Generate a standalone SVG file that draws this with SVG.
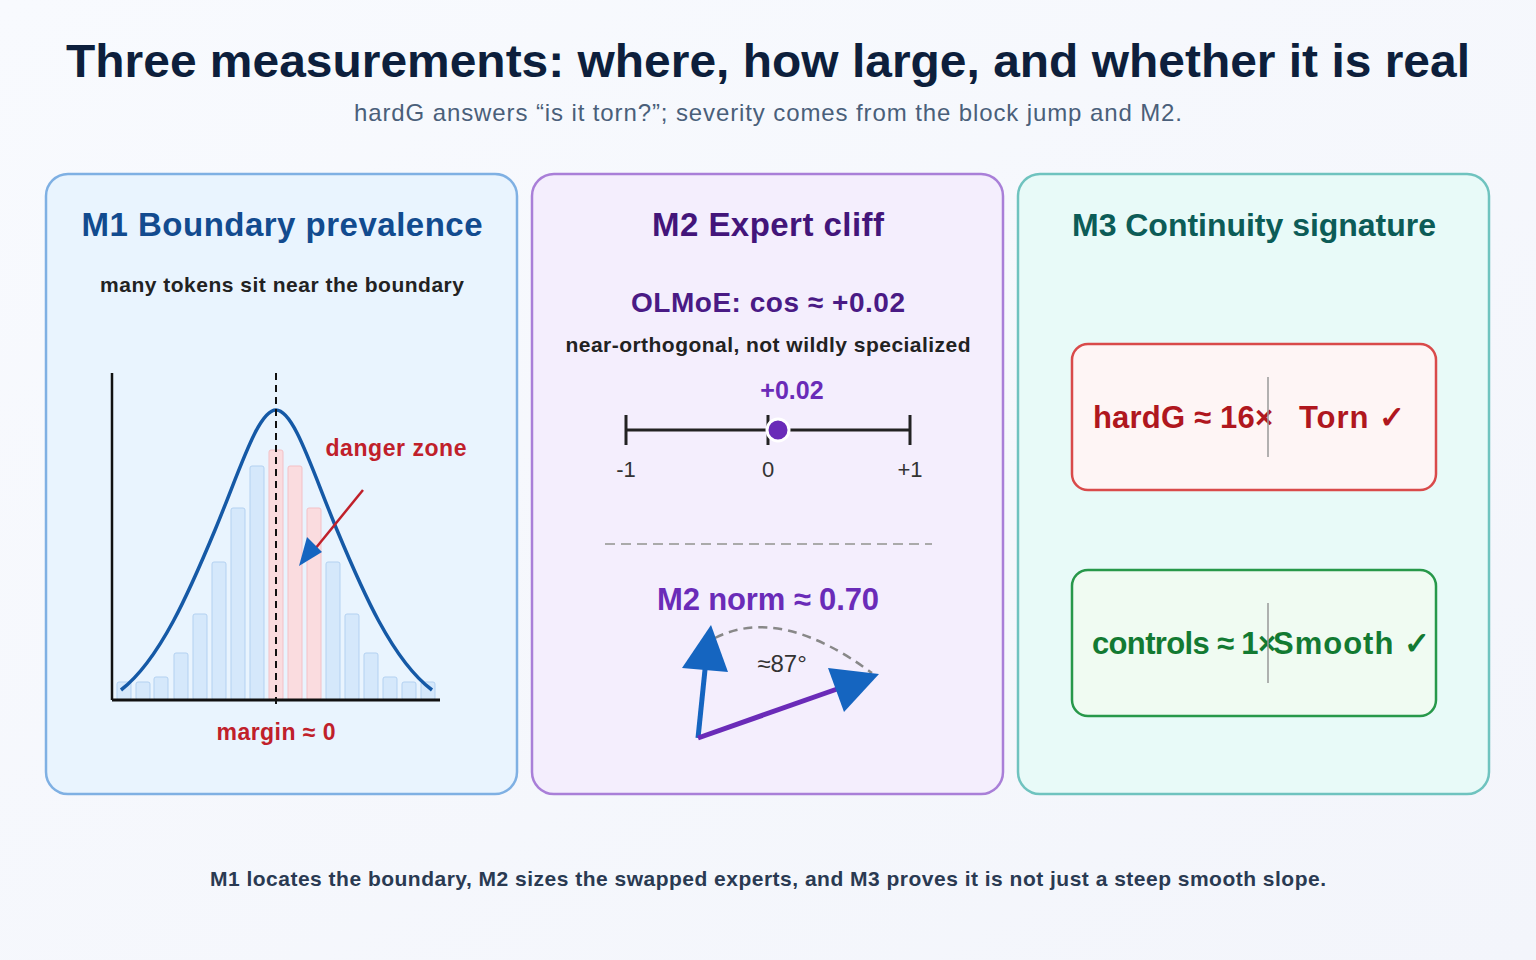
<svg xmlns="http://www.w3.org/2000/svg" width="1536" height="960" viewBox="0 0 1536 960">
<style>
text{font-family:"Liberation Sans",Arial,sans-serif}
.b{font-weight:bold}
.card{stroke-width:2.5}
</style>
<defs>
<linearGradient id="bg" x1="0" y1="0" x2="1" y2="1"><stop offset="0" stop-color="#f8fafe"/><stop offset="1" stop-color="#f3f5fb"/></linearGradient>
</defs>
<rect width="1536" height="960" fill="url(#bg)"/>
<text x="768" y="77" text-anchor="middle" font-size="47" class="b" fill="#0d1f3c" textLength="1404" lengthAdjust="spacingAndGlyphs">Three measurements: where, how large, and whether it is real</text>
<text x="768" y="121" text-anchor="middle" font-size="24" fill="#4a5f7a" textLength="828" lengthAdjust="spacing">hardG answers “is it torn?”; severity comes from the block jump and M2.</text>

<g id="m1">
<rect x="46" y="174" width="471" height="620" rx="22" fill="#e9f4fe" stroke="#7fb0e3" class="card"/>
<text x="282" y="236" text-anchor="middle" font-size="33" class="b" fill="#124b8f" textLength="401" lengthAdjust="spacing">M1 Boundary prevalence</text>
<text x="282" y="292" text-anchor="middle" font-size="21" class="b" fill="#222" textLength="364" lengthAdjust="spacing">many tokens sit near the boundary</text>
<g fill="#d5e8fb" stroke="#b3d1f1" stroke-width="1">
<rect x="117" y="682" width="14" height="18" rx="2"/><rect x="136" y="682" width="14" height="18" rx="2"/><rect x="154" y="677" width="14" height="23" rx="2"/><rect x="174" y="653" width="14" height="47" rx="2"/><rect x="193" y="614" width="14" height="86" rx="2"/><rect x="212" y="562" width="14" height="138" rx="2"/><rect x="231" y="508" width="14" height="192" rx="2"/><rect x="250" y="466" width="14" height="234" rx="2"/>
<rect x="326" y="562" width="14" height="138" rx="2"/><rect x="345" y="614" width="14" height="86" rx="2"/><rect x="364" y="653" width="14" height="47" rx="2"/><rect x="383" y="677" width="14" height="23" rx="2"/><rect x="402" y="682" width="14" height="18" rx="2"/><rect x="421" y="682" width="14" height="18" rx="2"/>
</g>
<g fill="#fadcdf" stroke="#f3c0c6" stroke-width="1">
<rect x="269" y="450" width="14" height="250" rx="2"/><rect x="288" y="466" width="14" height="234" rx="2"/><rect x="307" y="508" width="14" height="192" rx="2"/>
</g>
<line x1="112" y1="373" x2="112" y2="700" stroke="#111" stroke-width="2.5"/>
<line x1="112" y1="700" x2="440" y2="700" stroke="#111" stroke-width="3"/>
<path d="M121,690 C160,660 190,590 215,530 C240,470 258,410 276,410 C294,410 312,470 337,530 C362,590 392,660 432,690" fill="none" stroke="#1559a6" stroke-width="3.5"/>
<line x1="276" y1="373" x2="276" y2="705" stroke="#111" stroke-width="2" stroke-dasharray="7 5"/>
<text x="396" y="456" text-anchor="middle" font-size="23" class="b" fill="#c0202a" textLength="141" lengthAdjust="spacing">danger zone</text>
<line x1="363" y1="490" x2="315" y2="549" stroke="#c0202a" stroke-width="2.5"/>
<path d="M299,566 L307,537 L322,552 z" fill="#1565c0"/>
<text x="276" y="740" text-anchor="middle" font-size="23" class="b" fill="#c0202a" textLength="119" lengthAdjust="spacing">margin ≈ 0</text>
</g>

<g id="m2">
<rect x="532" y="174" width="471" height="620" rx="22" fill="#f4eefd" stroke="#a97fd8" class="card"/>
<text x="768" y="236" text-anchor="middle" font-size="33" class="b" fill="#43157a" textLength="232" lengthAdjust="spacing">M2 Expert cliff</text>
<text x="768" y="312" text-anchor="middle" font-size="28" class="b" fill="#4a1a85" textLength="274" lengthAdjust="spacing">OLMoE: cos ≈ +0.02</text>
<text x="768" y="352" text-anchor="middle" font-size="21" class="b" fill="#222" textLength="405" lengthAdjust="spacing">near-orthogonal, not wildly specialized</text>
<text x="792" y="399" text-anchor="middle" font-size="25" class="b" fill="#6a2bb8">+0.02</text>
<line x1="626" y1="430" x2="910" y2="430" stroke="#222" stroke-width="3"/>
<line x1="626" y1="415" x2="626" y2="445" stroke="#222" stroke-width="3"/>
<line x1="768" y1="415" x2="768" y2="445" stroke="#222" stroke-width="3"/>
<line x1="910" y1="415" x2="910" y2="445" stroke="#222" stroke-width="3"/>
<circle cx="778" cy="430" r="11" fill="#6a2bb8" stroke="#fff" stroke-width="3"/>
<text x="626" y="477" text-anchor="middle" font-size="22" fill="#333">-1</text>
<text x="768" y="477" text-anchor="middle" font-size="22" fill="#333">0</text>
<text x="910" y="477" text-anchor="middle" font-size="22" fill="#333">+1</text>
<line x1="605" y1="544" x2="932" y2="544" stroke="#aaa" stroke-width="2" stroke-dasharray="10 6"/>
<text x="768" y="610" text-anchor="middle" font-size="31" class="b" fill="#6a2bb8" textLength="222" lengthAdjust="spacing">M2 norm ≈ 0.70</text>
<path d="M715,638 Q780,605 872,673" fill="none" stroke="#888" stroke-width="2.5" stroke-dasharray="9 6"/>
<text x="782" y="672" text-anchor="middle" font-size="24" fill="#333">≈87°</text>
<line x1="698" y1="738" x2="706" y2="660" stroke="#1565c0" stroke-width="5"/>
<path d="M711,625 L682,668 L728,672 z" fill="#1565c0"/>
<line x1="698" y1="738" x2="840" y2="688" stroke="#6a2bb8" stroke-width="5"/>
<path d="M879,674 L828,668 L844,712 z" fill="#1565c0"/>
</g>

<g id="m3">
<rect x="1018" y="174" width="471" height="620" rx="22" fill="#e8faf8" stroke="#6fc3bf" class="card"/>
<text x="1254" y="236" text-anchor="middle" font-size="32" class="b" fill="#0c5c57" textLength="364" lengthAdjust="spacing">M3 Continuity signature</text>
<g id="torn">
<rect x="1072" y="344" width="364" height="146" rx="16" fill="#fef5f5" stroke="#d94a4a" stroke-width="2.5"/>
<text x="1093" y="428" font-size="31" class="b" fill="#b0171e" textLength="180" lengthAdjust="spacing">hardG ≈ 16×</text>
<text x="1299" y="428" font-size="31" class="b" fill="#b0171e" textLength="106" lengthAdjust="spacing">Torn ✓</text>
<line x1="1268" y1="377" x2="1268" y2="457" stroke="#999" stroke-width="1.5"/>
</g>
<g id="smooth">
<rect x="1072" y="570" width="364" height="146" rx="16" fill="#f0fbf2" stroke="#27984a" stroke-width="2.5"/>
<text x="1092" y="654" font-size="31" class="b" fill="#137a32" textLength="184" lengthAdjust="spacing">controls ≈ 1×</text>
<text x="1273" y="654" font-size="31" class="b" fill="#137a32" textLength="157" lengthAdjust="spacing">Smooth ✓</text>
<line x1="1268" y1="603" x2="1268" y2="683" stroke="#999" stroke-width="1.5"/>
</g>
</g>
<g id="connectors"/>
<text x="768" y="886" text-anchor="middle" font-size="21" class="b" fill="#2a3a52" textLength="1116" lengthAdjust="spacing">M1 locates the boundary, M2 sizes the swapped experts, and M3 proves it is not just a steep smooth slope.</text>
</svg>
